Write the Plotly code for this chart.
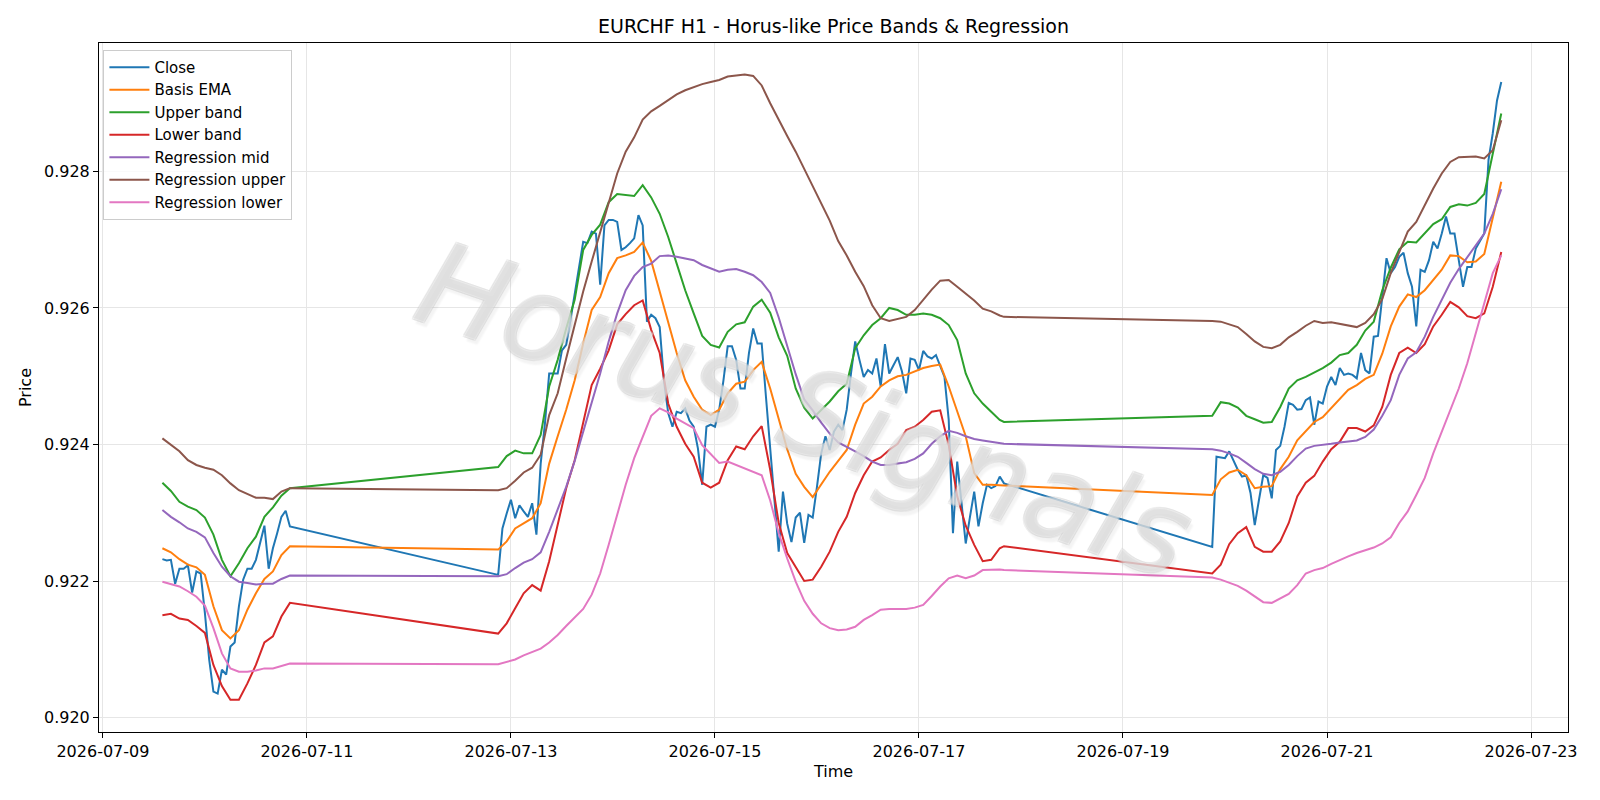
import pandas as pd
import plotly.graph_objects as go

# ---------------- data (hourly EURCHF, three trading blocks) ----------------
SEGMENT_STARTS = ["2026-07-09 14:00", "2026-07-12 21:00", "2026-07-19 21:00"]
SEGMENT_LENGTHS = [31, 120, 69]

CLOSE_1 = [0.92232, 0.92230, 0.92231, 0.92196, 0.92218, 0.92218, 0.92223, 0.92183, 0.92214, 0.92211,
           0.92153, 0.92085, 0.92038, 0.92035, 0.92070, 0.92063, 0.92104, 0.92110, 0.92163, 0.92202,
           0.92218, 0.92218, 0.92231, 0.92255, 0.92281, 0.92218, 0.92248, 0.92270, 0.92294, 0.92303,
           0.92280]
CLOSE_2 = [0.92209, 0.92277, 0.92299, 0.92319, 0.92292, 0.92311, 0.92302, 0.92294, 0.92314, 0.92268,
           0.92372, 0.92431, 0.92504, 0.92504, 0.92504, 0.92538, 0.92546, 0.92582, 0.92621, 0.92656,
           0.92697, 0.92695, 0.92712, 0.92709, 0.92634, 0.92721, 0.92729, 0.92729, 0.92726, 0.92685,
           0.92689, 0.92695, 0.92702, 0.92736, 0.92721, 0.92580, 0.92590, 0.92585, 0.92572, 0.92494,
           0.92446, 0.92426, 0.92448, 0.92446, 0.92453, 0.92435, 0.92426, 0.92394, 0.92341, 0.92426,
           0.92429, 0.92426, 0.92451, 0.92494, 0.92544, 0.92544, 0.92524, 0.92482, 0.92482, 0.92534,
           0.92570, 0.92548, 0.92548, 0.92470, 0.92395, 0.92318, 0.92243, 0.92331, 0.92284, 0.92257,
           0.92293, 0.92300, 0.92256, 0.92297, 0.92293, 0.92338, 0.92387, 0.92412, 0.92392, 0.92419,
           0.92429, 0.92421, 0.92451, 0.92504, 0.92551, 0.92524, 0.92499, 0.92509, 0.92504, 0.92526,
           0.92485, 0.92547, 0.92504, 0.92516, 0.92528, 0.92507, 0.92475, 0.92526, 0.92524, 0.92509,
           0.92537, 0.92529, 0.92526, 0.92531, 0.92516, 0.92499, 0.92436, 0.92270, 0.92375, 0.92314,
           0.92255, 0.92294, 0.92331, 0.92280, 0.92314, 0.92341, 0.92336, 0.92339, 0.92353, 0.92343]
CLOSE_3 = [0.92250, 0.92382, 0.92381, 0.92380, 0.92390, 0.92377, 0.92363, 0.92353, 0.92355, 0.92329,
           0.92282, 0.92319, 0.92355, 0.92351, 0.92321, 0.92392, 0.92398, 0.92426, 0.92461, 0.92458,
           0.92451, 0.92452, 0.92465, 0.92469, 0.92429, 0.92463, 0.92460, 0.92485, 0.92499, 0.92487,
           0.92512, 0.92502, 0.92504, 0.92502, 0.92497, 0.92534, 0.92509, 0.92504, 0.92558, 0.92559,
           0.92612, 0.92673, 0.92651, 0.92660, 0.92675, 0.92681, 0.92651, 0.92631, 0.92573, 0.92656,
           0.92653, 0.92670, 0.92697, 0.92687, 0.92709, 0.92734, 0.92709, 0.92709, 0.92670, 0.92631,
           0.92660, 0.92660, 0.92687, 0.92697, 0.92709, 0.92817, 0.92856, 0.92904, 0.92931]

# smooth series, read every 2 hours (plus the last bar of each block)
EMA_1 = [0.92248, 0.92242, 0.92232, 0.92224, 0.92220, 0.92209, 0.92163, 0.92128, 0.92116, 0.92128,
         0.92158, 0.92182, 0.92203, 0.92214, 0.92238, 0.92251]
EMA_2 = [0.92246, 0.92258, 0.92277, 0.92284, 0.92292, 0.92314, 0.92372, 0.92412, 0.92451, 0.92494,
         0.92548, 0.92597, 0.92616, 0.92651, 0.92673, 0.92677, 0.92682, 0.92696, 0.92669, 0.92624,
         0.92577, 0.92534, 0.92494, 0.92470, 0.92451, 0.92443, 0.92451, 0.92475, 0.92489, 0.92492,
         0.92509, 0.92521, 0.92482, 0.92437, 0.92393, 0.92357, 0.92338, 0.92323, 0.92341, 0.92360,
         0.92376, 0.92392, 0.92429, 0.92460, 0.92470, 0.92485, 0.92494, 0.92500, 0.92502, 0.92507,
         0.92512, 0.92515, 0.92517, 0.92485, 0.92448, 0.92412, 0.92358, 0.92341, 0.92341, 0.92341,
         0.92340]
EMA_3 = [0.92326, 0.92349, 0.92359, 0.92363, 0.92355, 0.92336, 0.92338, 0.92339, 0.92364, 0.92382,
         0.92406, 0.92420, 0.92433, 0.92440, 0.92453, 0.92466, 0.92480, 0.92487, 0.92496, 0.92502,
         0.92533, 0.92573, 0.92602, 0.92620, 0.92616, 0.92626, 0.92641, 0.92656, 0.92677, 0.92676,
         0.92667, 0.92668, 0.92679, 0.92734, 0.92785]

UPPER_1 = [0.92344, 0.92332, 0.92316, 0.92309, 0.92304, 0.92293, 0.92268, 0.92231, 0.92207, 0.92226,
           0.92248, 0.92265, 0.92294, 0.92308, 0.92325, 0.92336]
UPPER_2 = [0.92367, 0.92383, 0.92391, 0.92387, 0.92387, 0.92414, 0.92485, 0.92524, 0.92570, 0.92612,
           0.92685, 0.92707, 0.92722, 0.92755, 0.92767, 0.92766, 0.92764, 0.92780, 0.92762, 0.92738,
           0.92704, 0.92665, 0.92626, 0.92592, 0.92559, 0.92546, 0.92542, 0.92565, 0.92576, 0.92579,
           0.92602, 0.92612, 0.92593, 0.92557, 0.92530, 0.92482, 0.92454, 0.92438, 0.92450, 0.92463,
           0.92478, 0.92489, 0.92541, 0.92560, 0.92575, 0.92585, 0.92600, 0.92597, 0.92590, 0.92590,
           0.92592, 0.92590, 0.92585, 0.92575, 0.92553, 0.92504, 0.92475, 0.92460, 0.92448, 0.92436,
           0.92433]
UPPER_3 = [0.92442, 0.92462, 0.92460, 0.92454, 0.92442, 0.92437, 0.92432, 0.92433, 0.92455, 0.92482,
           0.92494, 0.92499, 0.92505, 0.92512, 0.92520, 0.92531, 0.92534, 0.92546, 0.92567, 0.92580,
           0.92626, 0.92659, 0.92686, 0.92697, 0.92696, 0.92709, 0.92723, 0.92730, 0.92748, 0.92752,
           0.92750, 0.92754, 0.92767, 0.92826, 0.92885]

LOWER_1 = [0.92150, 0.92152, 0.92145, 0.92143, 0.92134, 0.92124, 0.92077, 0.92046, 0.92026, 0.92026,
           0.92050, 0.92077, 0.92110, 0.92119, 0.92148, 0.92168]
LOWER_2 = [0.92123, 0.92138, 0.92160, 0.92182, 0.92194, 0.92186, 0.92229, 0.92282, 0.92336, 0.92377,
           0.92431, 0.92487, 0.92511, 0.92538, 0.92576, 0.92591, 0.92604, 0.92611, 0.92568, 0.92534,
           0.92460, 0.92426, 0.92401, 0.92382, 0.92344, 0.92337, 0.92344, 0.92377, 0.92397, 0.92393,
           0.92412, 0.92427, 0.92363, 0.92285, 0.92241, 0.92220, 0.92200, 0.92202, 0.92221, 0.92243,
           0.92272, 0.92294, 0.92329, 0.92355, 0.92375, 0.92381, 0.92392, 0.92401, 0.92421, 0.92426,
           0.92436, 0.92448, 0.92450, 0.92399, 0.92324, 0.92281, 0.92253, 0.92229, 0.92231, 0.92248,
           0.92251]
LOWER_3 = [0.92211, 0.92224, 0.92254, 0.92270, 0.92279, 0.92250, 0.92243, 0.92243, 0.92258, 0.92285,
           0.92324, 0.92344, 0.92354, 0.92375, 0.92393, 0.92404, 0.92424, 0.92424, 0.92419, 0.92428,
           0.92455, 0.92502, 0.92534, 0.92542, 0.92534, 0.92547, 0.92573, 0.92590, 0.92609, 0.92601,
           0.92588, 0.92585, 0.92592, 0.92631, 0.92682]

REG_MID_1 = [0.92304, 0.92294, 0.92286, 0.92277, 0.92272, 0.92264, 0.92241, 0.92221, 0.92207, 0.92199,
             0.92197, 0.92195, 0.92196, 0.92196, 0.92203, 0.92208]
REG_MID_2 = [0.92207, 0.92210, 0.92219, 0.92227, 0.92232, 0.92242, 0.92272, 0.92304, 0.92338, 0.92376,
             0.92419, 0.92460, 0.92504, 0.92551, 0.92592, 0.92626, 0.92647, 0.92660, 0.92665, 0.92676,
             0.92677, 0.92675, 0.92673, 0.92670, 0.92663, 0.92658, 0.92653, 0.92656, 0.92657, 0.92653,
             0.92648, 0.92638, 0.92622, 0.92586, 0.92543, 0.92503, 0.92466, 0.92450, 0.92432, 0.92416,
             0.92403, 0.92397, 0.92390, 0.92383, 0.92375, 0.92370, 0.92370, 0.92372, 0.92374, 0.92379,
             0.92387, 0.92401, 0.92412, 0.92420, 0.92417, 0.92412, 0.92408, 0.92406, 0.92404, 0.92402,
             0.92401]
REG_MID_3 = [0.92393, 0.92391, 0.92387, 0.92382, 0.92373, 0.92364, 0.92357, 0.92355, 0.92360, 0.92370,
             0.92383, 0.92394, 0.92398, 0.92399, 0.92401, 0.92403, 0.92405, 0.92406, 0.92411, 0.92422,
             0.92442, 0.92465, 0.92502, 0.92526, 0.92535, 0.92558, 0.92587, 0.92612, 0.92637, 0.92657,
             0.92674, 0.92692, 0.92709, 0.92738, 0.92774]

REG_UP_1 = [0.92409, 0.92399, 0.92390, 0.92377, 0.92370, 0.92366, 0.92363, 0.92355, 0.92343, 0.92333,
            0.92328, 0.92322, 0.92322, 0.92320, 0.92331, 0.92336]
REG_UP_2 = [0.92333, 0.92336, 0.92347, 0.92359, 0.92366, 0.92385, 0.92443, 0.92475, 0.92526, 0.92575,
            0.92624, 0.92668, 0.92712, 0.92753, 0.92797, 0.92829, 0.92850, 0.92876, 0.92888, 0.92896,
            0.92904, 0.92913, 0.92919, 0.92924, 0.92928, 0.92931, 0.92934, 0.92939, 0.92941, 0.92942,
            0.92940, 0.92926, 0.92900, 0.92875, 0.92852, 0.92829, 0.92804, 0.92780, 0.92755, 0.92728,
            0.92698, 0.92677, 0.92653, 0.92632, 0.92604, 0.92585, 0.92581, 0.92584, 0.92587, 0.92597,
            0.92612, 0.92627, 0.92640, 0.92641, 0.92631, 0.92621, 0.92611, 0.92599, 0.92595, 0.92589,
            0.92587]
REG_UP_3 = [0.92581, 0.92580, 0.92576, 0.92572, 0.92562, 0.92551, 0.92543, 0.92541, 0.92546, 0.92557,
            0.92565, 0.92574, 0.92581, 0.92578, 0.92579, 0.92577, 0.92575, 0.92572, 0.92578, 0.92591,
            0.92613, 0.92651, 0.92682, 0.92712, 0.92726, 0.92751, 0.92775, 0.92797, 0.92814, 0.92821,
            0.92822, 0.92822, 0.92819, 0.92831, 0.92875]

REG_LOW_1 = [0.92199, 0.92196, 0.92192, 0.92185, 0.92177, 0.92164, 0.92131, 0.92094, 0.92072, 0.92067,
             0.92067, 0.92069, 0.92072, 0.92072, 0.92076, 0.92079]
REG_LOW_2 = [0.92078, 0.92082, 0.92085, 0.92091, 0.92096, 0.92101, 0.92110, 0.92121, 0.92134, 0.92147,
             0.92159, 0.92180, 0.92211, 0.92253, 0.92297, 0.92341, 0.92380, 0.92412, 0.92442, 0.92453,
             0.92447, 0.92438, 0.92431, 0.92424, 0.92399, 0.92386, 0.92373, 0.92375, 0.92370, 0.92364,
             0.92359, 0.92355, 0.92318, 0.92270, 0.92233, 0.92199, 0.92171, 0.92152, 0.92138, 0.92131,
             0.92128, 0.92129, 0.92133, 0.92143, 0.92150, 0.92158, 0.92159, 0.92159, 0.92159, 0.92161,
             0.92165, 0.92178, 0.92192, 0.92204, 0.92208, 0.92204, 0.92208, 0.92216, 0.92217, 0.92217,
             0.92216]
REG_LOW_3 = [0.92205, 0.92202, 0.92197, 0.92193, 0.92186, 0.92177, 0.92169, 0.92168, 0.92175, 0.92181,
             0.92194, 0.92211, 0.92216, 0.92219, 0.92225, 0.92231, 0.92236, 0.92241, 0.92245, 0.92249,
             0.92255, 0.92264, 0.92285, 0.92302, 0.92326, 0.92351, 0.92387, 0.92419, 0.92451, 0.92482,
             0.92519, 0.92565, 0.92607, 0.92651, 0.92677]

SERIES_NAMES = ["Close", "Basis EMA", "Upper band", "Lower band",
                "Regression mid", "Regression upper", "Regression lower"]
COLORS = ["#1f77b4", "#ff7f0e", "#2ca02c", "#d62728", "#9467bd", "#8c564b", "#e377c2"]
Y_TICKS = [0.920, 0.922, 0.924, 0.926, 0.928]
X_TICKS = ["2026-07-09", "2026-07-11", "2026-07-13", "2026-07-15",
           "2026-07-17", "2026-07-19", "2026-07-21", "2026-07-23"]
TITLE = "EURCHF H1 - Horus-like Price Bands & Regression"
WATERMARK = "Horus Signals"

# ---------------- build time axes ----------------
segs = [pd.date_range(s, periods=n, freq="h") for s, n in zip(SEGMENT_STARTS, SEGMENT_LENGTHS)]


def every_two(seg):
    idx = seg[::2]
    if (len(seg) - 1) % 2:
        idx = idx.append(seg[-1:])
    return idx


t_close = segs[0].append(segs[1]).append(segs[2])
t_smooth = every_two(segs[0]).append(every_two(segs[1])).append(every_two(segs[2]))

series = [
    (t_close, CLOSE_1 + CLOSE_2 + CLOSE_3),
    (t_smooth, EMA_1 + EMA_2 + EMA_3),
    (t_smooth, UPPER_1 + UPPER_2 + UPPER_3),
    (t_smooth, LOWER_1 + LOWER_2 + LOWER_3),
    (t_smooth, REG_MID_1 + REG_MID_2 + REG_MID_3),
    (t_smooth, REG_UP_1 + REG_UP_2 + REG_UP_3),
    (t_smooth, REG_LOW_1 + REG_LOW_2 + REG_LOW_3),
]

fig = go.Figure()
for (tx, vals), name, col in zip(series, SERIES_NAMES, COLORS):
    assert len(tx) == len(vals), (name, len(tx), len(vals))
    fig.add_trace(go.Scatter(x=tx, y=vals, mode="lines", name=name,
                             line=dict(color=col, width=2)))

FONT = "DejaVu Sans, Arial, sans-serif"
fig.update_layout(
    width=1600, height=800,
    margin=dict(l=99, r=32, t=43, b=68),
    paper_bgcolor="white", plot_bgcolor="white",
    font=dict(family=FONT, size=16, color="black"),
    title=dict(text=TITLE, x=0.5, xref="paper", xanchor="center",
               y=1 - 26 / 800, yref="container", yanchor="middle",
               font=dict(size=19, family=FONT, color="black")),
    showlegend=True,
    legend=dict(x=0.003, y=0.99, xanchor="left", yanchor="top",
                bgcolor="rgba(255,255,255,0.8)", bordercolor="#cccccc", borderwidth=1,
                font=dict(size=15, family=FONT), tracegroupgap=0, itemwidth=40),
)
fig.update_xaxes(
    range=["2026-07-08 23:05", "2026-07-23 08:42"],
    tickmode="array", tickvals=X_TICKS, ticktext=X_TICKS,
    showline=True, linecolor="black", linewidth=1, mirror=True,
    ticks="outside", ticklen=5, tickcolor="black", tickwidth=1,
    showgrid=True, gridcolor="#e6e6e6", gridwidth=1, zeroline=False,
    title=dict(text="Time", standoff=5, font=dict(size=16, family=FONT)),
    tickfont=dict(size=16, family=FONT),
)
fig.update_yaxes(
    range=[0.919788, 0.929882],
    tickmode="array", tickvals=Y_TICKS, ticktext=[f"{v:.3f}" for v in Y_TICKS],
    showline=True, linecolor="black", linewidth=1, mirror=True,
    ticks="outside", ticklen=5, tickcolor="black", tickwidth=1,
    showgrid=True, gridcolor="#e6e6e6", gridwidth=1, zeroline=False,
    title=dict(text="Price", standoff=8, font=dict(size=16, family=FONT)),
    tickfont=dict(size=16, family=FONT),
)

fig.add_annotation(
    text=WATERMARK, xref="paper", yref="paper", x=0.48, y=0.467,
    showarrow=False, textangle=19,
    font=dict(size=118, family=FONT, style="italic",
              color="rgba(255,255,255,0.3)",
              shadow="1px 1px 0 rgba(200,200,200,0.95), -1px -1px 0 rgba(200,200,200,0.95), "
                     "1px -1px 0 rgba(200,200,200,0.95), -1px 1px 0 rgba(200,200,200,0.95), "
                     "4px 4px 2px rgba(0,0,0,0.16)"),
)

fig.write_html("out.html")
